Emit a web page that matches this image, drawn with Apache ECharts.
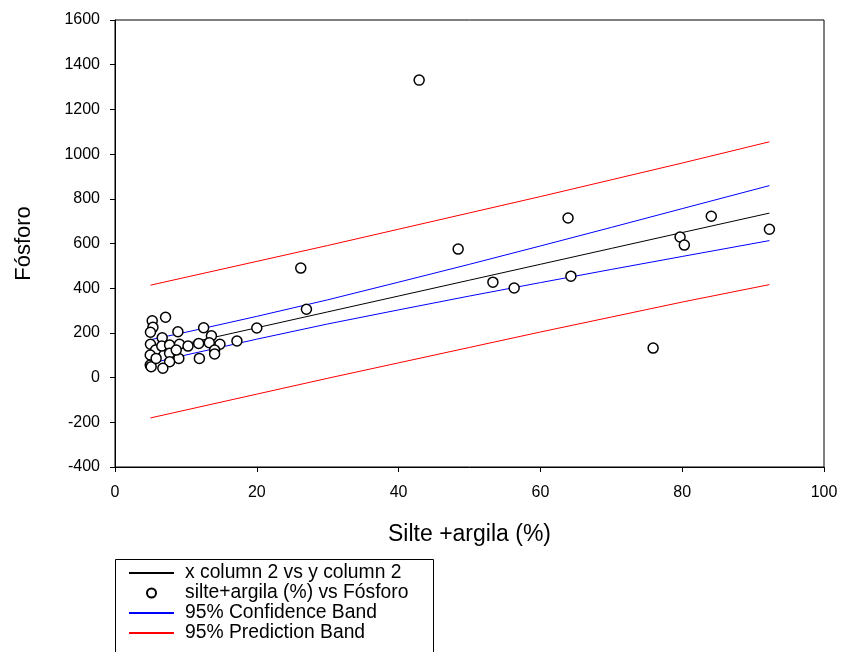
<!DOCTYPE html>
<html>
<head>
<meta charset="utf-8">
<script src="https://cdn.jsdelivr.net/npm/echarts@6/dist/echarts.min.js"></script>
<style>
html,body{margin:0;padding:0;background:#fff;}
#c{width:841px;height:652px;}
</style>
</head>
<body>
<div id="c"></div>
<script>
// Data
const xTicks = [0, 20, 40, 60, 80, 100];
const yTicks = [-400, -200, 0, 200, 400, 600, 800, 1000, 1200, 1400, 1600];

// observed points: silte+argila (%) vs Fósforo
const obsX = [42.9, 26.2, 27.0, 48.4, 53.3, 56.3, 63.9, 64.3, 75.9, 79.7, 80.3, 84.1, 92.3,
  20.0, 17.2, 5.25, 7.13, 5.35, 5.0, 6.66, 8.87, 12.5, 13.6, 5.0, 5.72, 6.6, 7.7, 9.1,
  10.3, 11.8, 13.3, 14.8, 14.05, 14.05, 11.9, 9.0, 7.7, 7.7, 6.75, 4.97, 5.1, 4.97, 5.8, 8.64];
const obsY = [1331, 490, 306, 575, 427, 401, 714, 454, 132, 629, 593, 722, 664,
  222, 164, 254, 270, 225, 203, 178, 205, 223, 187, 149, 123, 141, 146, 149,
  141, 153, 156, 149, 123, 106, 86, 86, 109, 71, 42, 56, 49, 101, 86, 123];

// fitted line and bands read along x
const lineX   = [5, 10, 20, 30, 40, 50, 60, 70, 80, 92.3];
const fitY    = [116.5, 152, 223, 294, 365, 436, 507, 578, 649, 736];
const confUp  = [169.5, 203, 274, 348, 427, 507, 589, 672, 756, 859];
const confLo  = [63.5, 101, 172, 240, 303, 365, 425, 484, 542, 613];
const predUp  = [413.5, 449, 520, 591, 664, 737, 810, 885, 960, 1055];
const predLo  = [-180.5, -145, -74, -3, 66, 135, 204, 271, 338, 416];

const legendNames = ['x column 2 vs y column 2', 'silte+argila (%) vs Fósforo', '95% Confidence Band', '95% Prediction Band'];

const zip = (xs, ys) => xs.map((x, i) => [x, ys[i]]);

const FONT = 'Liberation Sans';
const chart = echarts.init(document.getElementById('c'), null, {renderer: 'canvas'});

const lineSeries = (name, ys, color) => ({
  name: name, type: 'line', data: zip(lineX, ys), showSymbol: false, symbol: 'none',
  lineStyle: {color: color, width: 1}, itemStyle: {color: color}, z: 2, animation: false
});

const hiddenSymbol = {opacity: 0, color: 'rgba(0,0,0,0)', borderColor: 'rgba(0,0,0,0)', borderWidth: 0};

chart.setOption({
  animation: false,
  backgroundColor: '#fff',
  grid: {left: 115, right: 17, top: 20, bottom: 185, show: true, borderColor: '#000', borderWidth: 1, backgroundColor: 'transparent'},
  xAxis: {
    type: 'value', min: xTicks[0], max: xTicks[xTicks.length - 1], interval: 20,
    name: 'Silte +argila (%)', nameLocation: 'middle', nameGap: 56,
    nameTextStyle: {fontFamily: FONT, fontSize: 23, color: '#000'},
    axisLine: {show: true, onZero: false, lineStyle: {color: '#000', width: 1}},
    axisTick: {show: true, inside: false, length: 5, lineStyle: {color: '#000'}},
    axisLabel: {fontFamily: FONT, fontSize: 16, color: '#000', margin: 18, formatter: v => String(v)},
    splitLine: {show: false}
  },
  yAxis: {
    type: 'value', min: yTicks[0], max: yTicks[yTicks.length - 1], interval: 200,
    name: 'Fósforo', nameLocation: 'middle', nameGap: 80,
    nameTextStyle: {fontFamily: FONT, fontSize: 22, color: '#000'},
    axisLine: {show: true, onZero: false, lineStyle: {color: '#000', width: 1}},
    axisTick: {show: true, inside: false, length: 5, lineStyle: {color: '#000'}},
    axisLabel: {fontFamily: FONT, fontSize: 16, color: '#000', margin: 15, formatter: v => String(v)},
    splitLine: {show: false}
  },
  legend: {
    orient: 'vertical', left: 128, top: 563, padding: 0,
    itemWidth: 45, itemHeight: 9, itemGap: 0,
    textStyle: {fontFamily: FONT, fontSize: 19.3, lineHeight: 20, color: '#000', padding: [0, 0, 0, 6]},
    data: [
      {name: legendNames[0], itemStyle: hiddenSymbol},
      {name: legendNames[1]},
      {name: legendNames[2], itemStyle: hiddenSymbol},
      {name: legendNames[3], itemStyle: hiddenSymbol}
    ]
  },
  graphic: [{
    type: 'rect', shape: {x: 115.5, y: 559.5, width: 318, height: 120},
    style: {fill: 'none', stroke: '#000', lineWidth: 1}, z: -1, silent: true
  }],
  series: [
    lineSeries(legendNames[0], fitY, '#000000'),
    {
      name: legendNames[1], type: 'scatter', data: zip(obsX, obsY),
      symbol: 'circle', symbolSize: 10,
      itemStyle: {color: '#fff', borderColor: '#000', borderWidth: 1.5, opacity: 1}, z: 5
    },
    lineSeries(legendNames[2], confUp, '#0000ff'),
    lineSeries(legendNames[2], confLo, '#0000ff'),
    lineSeries(legendNames[3], predUp, '#ff0000'),
    lineSeries(legendNames[3], predLo, '#ff0000')
  ]
});
</script>
</body>
</html>
